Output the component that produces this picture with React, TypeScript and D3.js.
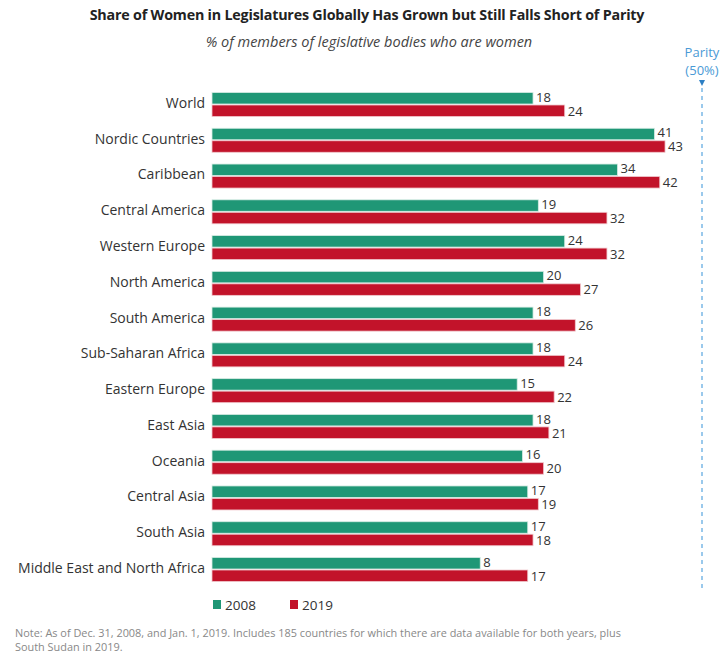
import React from "react";
import * as d3 from "d3";

const categories = [
  "World", "Nordic Countries", "Caribbean", "Central America", "Western Europe",
  "North America", "South America", "Sub-Saharan Africa", "Eastern Europe",
  "East Asia", "Oceania", "Central Asia", "South Asia", "Middle East and North Africa",
];
const values2008 = [18, 41, 34, 19, 24, 20, 18, 18, 15, 18, 16, 17, 17, 8];
const values2019 = [24, 43, 42, 32, 32, 27, 26, 24, 22, 21, 20, 19, 18, 17];
const seriesNames = ["2008", "2019"];
const parityValue = 50;
const barBase = -42.8;

const GREEN = "#1f9776";
const RED = "#c2132a";
const FONT = "'Open Sans', 'Noto Sans', sans-serif";

export default function App() {
  const W = 720, H = 658;
  const x = d3.scaleLinear().domain([barBase, parityValue]).range([212, 702]);
  const y = d3.scalePoint<string>().domain(categories).range([104.5, 569.5]);
  const bh = 11.5;
  const gap = 1;
  return (
    <svg width={W} height={H} style={{ position: "absolute", left: 0, top: 0, background: "#fff" }}>
      <text x={367} y={20} textAnchor="middle" fontFamily={FONT} fontWeight={700} fontSize={14.3} fill="#222" letterSpacing={-0.2}>
        Share of Women in Legislatures Globally Has Grown but Still Falls Short of Parity
      </text>
      <text x={369} y={47} textAnchor="middle" fontFamily={FONT} fontStyle="italic" fontSize={14.5} fill="#444">
        % of members of legislative bodies who are women
      </text>
      {/* parity */}
      <text x={x(parityValue)} y={57} textAnchor="middle" fontFamily={FONT} fontSize={13} fill="#4a9ad6">Parity</text>
      <text x={x(parityValue)} y={75} textAnchor="middle" fontFamily={FONT} fontSize={13} fill="#4a9ad6">(50%)</text>
      <path d={`M${x(parityValue) - 3},80 L${x(parityValue) + 3},80 L${x(parityValue)},86 Z`} fill="#2d7fc4" />
      <line x1={x(parityValue)} x2={x(parityValue)} y1={88} y2={592} stroke="#7ab8e6" strokeWidth={1.5} strokeDasharray="4,4" />
      {categories.map((c, i) => {
        const cy = y(c) as number;
        const y1 = cy - gap / 2 - bh;
        const y2 = cy + gap / 2;
        return (
          <g key={c}>
            <text x={205} y={cy - 1.5} dy="0.35em" textAnchor="end" fontFamily={FONT} fontSize={14} fill="#333">{c}</text>
            <rect x={x(barBase)} y={y1} width={x(values2008[i]) - x(barBase)} height={bh} fill={GREEN} stroke="#d7ece4" strokeWidth={0.8} />
            <rect x={x(barBase)} y={y2} width={x(values2019[i]) - x(barBase)} height={bh} fill={RED} stroke="#f0c8cd" strokeWidth={0.8} />
            <text x={x(values2008[i]) + 3} y={y1 + bh / 2 - 0.5} dy="0.3em" fontFamily={FONT} fontSize={13} fill="#333">{values2008[i]}</text>
            <text x={x(values2019[i]) + 3} y={y2 + bh / 2 + 1} dy="0.3em" fontFamily={FONT} fontSize={13} fill="#333">{values2019[i]}</text>
          </g>
        );
      })}
      {/* legend */}
      <rect x={213} y={600} width={8} height={9} fill={GREEN} />
      <text x={225} y={609.5} fontFamily={FONT} fontSize={13.5} fill="#333">{seriesNames[0]}</text>
      <rect x={290} y={600} width={8} height={9} fill={RED} />
      <text x={302} y={609.5} fontFamily={FONT} fontSize={13.5} fill="#333">{seriesNames[1]}</text>
      <text x={15} y={637} fontFamily={FONT} fontSize={10.9} fill="#888">
        Note: As of Dec. 31, 2008, and Jan. 1, 2019. Includes 185 countries for which there are data available for both years, plus
      </text>
      <text x={15} y={651} fontFamily={FONT} fontSize={10.9} fill="#888">South Sudan in 2019.</text>
    </svg>
  );
}
